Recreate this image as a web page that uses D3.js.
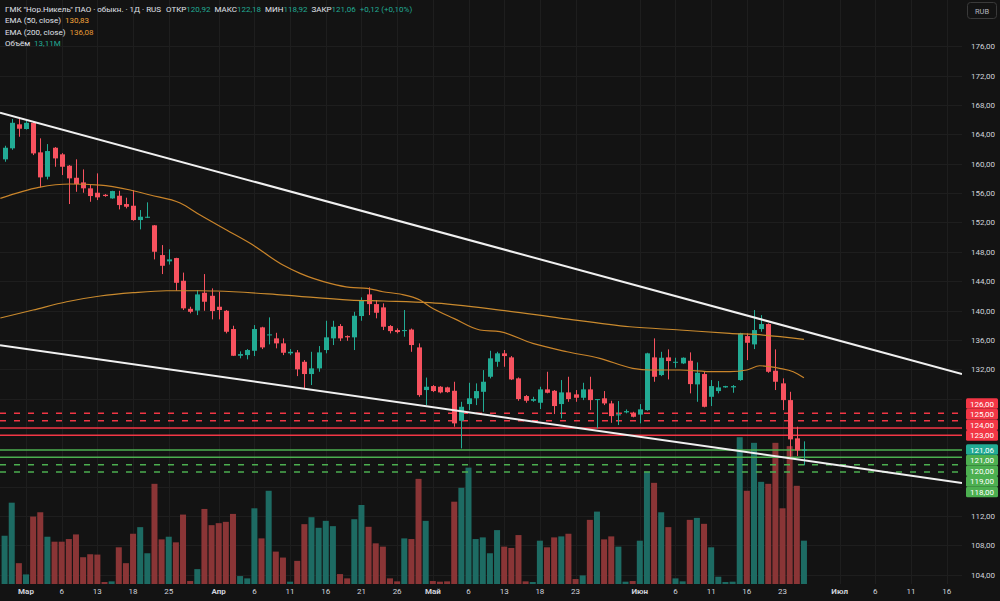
<!DOCTYPE html>
<html><head><meta charset="utf-8">
<script src="https://cdn.jsdelivr.net/npm/d3@7"></script>
<style>
html,body{margin:0;padding:0;background:#131313;overflow:hidden}
text{font-family:Roboto,"Noto Sans",sans-serif}
</style></head><body>
<svg id="c" width="1000" height="601"></svg>
<script>
// ---- data ----
const openP = [160.60,162.10,165.37,164.73,165.58,161.55,158.23,162.18,161.28,159.73,158.09,157.46,156.65,156.05,155.77,155.28,155.64,154.51,154.28,152.33,152.64,151.61,147.56,146.70,147.15,144.06,140.24,140.00,142.42,142.01,140.52,139.97,137.48,133.84,133.93,134.52,137.71,136.62,136.21,135.53,134.17,134.30,133.02,131.35,132.12,134.62,136.21,137.89,136.52,136.35,139.25,142.20,140.88,140.43,137.89,137.34,137.20,137.41,134.98,129.17,129.71,129.62,129.53,129.07,124.98,127.26,128.04,128.93,130.98,133.02,134.17,133.62,130.76,128.35,127.71,127.44,129.26,129.07,127.26,128.85,128.58,128.12,129.26,127.80,128.04,127.35,125.72,126.13,125.99,125.83,126.44,133.62,131.21,133.62,132.89,132.80,133.16,129.94,131.35,128.25,129.03,129.53,129.53,130.53,136.52,135.39,137.48,138.16,131.80,130.08,127.80,122.59,120.92];
const highP = [162.45,166.09,166.18,165.95,165.72,163.46,162.68,162.27,161.45,159.82,160.60,159.23,157.23,158.69,155.87,156.32,156.32,155.37,156.41,153.69,154.74,151.65,148.92,148.34,147.19,145.17,140.52,142.79,144.97,143.02,142.56,140.07,137.93,134.44,134.75,138.02,137.79,139.07,136.97,136.21,134.75,134.62,133.25,134.38,135.16,138.61,138.61,138.16,136.62,139.83,141.80,143.16,141.43,140.98,138.02,137.57,140.07,137.55,135.53,130.87,129.85,129.71,129.62,130.30,127.57,130.16,130.08,131.89,134.52,134.38,134.62,133.80,130.89,128.49,128.25,129.62,131.66,129.17,130.53,130.98,129.17,130.16,130.98,127.94,129.03,127.71,127.67,126.53,126.21,127.26,134.25,136.21,134.38,134.71,133.57,133.62,134.30,132.94,131.75,130.53,130.39,129.75,129.85,136.97,136.89,140.07,139.38,138.25,134.71,130.76,128.93,124.17,122.18];
const lowP = [160.27,161.90,163.68,164.66,161.18,156.78,157.87,159.59,158.46,154.51,156.18,156.05,154.82,155.05,155.50,155.23,153.78,153.92,152.23,151.06,152.60,146.97,144.97,146.26,142.69,140.07,139.62,139.38,139.97,138.80,138.80,136.89,133.80,133.49,133.35,133.80,134.75,135.39,134.85,133.93,133.93,131.07,129.40,129.85,131.66,134.17,135.30,135.84,135.88,134.62,138.61,139.38,138.94,137.34,136.89,136.89,136.43,134.38,128.25,127.12,128.89,128.72,128.80,124.17,121.22,126.44,127.12,126.21,130.76,132.34,132.34,130.53,127.71,127.44,127.57,126.58,128.72,125.90,125.31,127.57,127.57,127.80,126.44,123.95,127.12,124.71,124.40,125.99,125.45,124.63,126.35,130.30,131.07,130.62,132.21,132.71,128.72,127.57,126.81,126.99,128.72,129.48,128.80,130.44,133.25,134.75,137.11,131.52,129.17,126.44,120.08,120.17,118.92];
const closeP = [162.18,165.58,164.77,165.58,161.41,158.14,161.73,160.73,159.59,158.01,157.23,156.65,155.60,155.42,155.60,156.28,154.37,154.14,152.33,152.78,152.78,148.01,146.10,146.97,143.78,140.30,139.83,142.20,141.20,139.93,140.07,137.11,133.84,134.07,134.62,137.48,134.98,136.75,135.53,134.25,134.38,131.99,131.35,132.12,134.30,136.35,137.79,136.21,136.35,139.29,141.33,140.88,139.70,137.79,137.20,137.07,137.34,135.30,128.48,129.62,129.03,128.85,128.89,124.63,126.89,128.04,129.03,130.30,133.49,134.17,133.80,130.62,127.94,127.71,127.94,129.26,128.80,126.99,128.85,127.94,128.12,129.26,127.80,127.94,127.35,125.62,125.86,126.30,125.53,126.54,134.17,130.98,133.57,133.12,133.02,133.57,129.98,131.52,126.89,129.71,129.53,129.71,129.71,136.89,135.61,137.34,138.16,131.66,130.30,127.80,122.45,120.94,121.06];
const volumeM = [14.6,24.6,6.3,2.9,20.4,21.7,14.3,12.8,12.8,13.6,15.0,8.1,9.0,8.9,0.6,0.8,11.1,6.3,15.2,17.2,9.3,30.3,13.5,14.3,12.6,21.0,0.9,4.5,22.7,17.8,18.4,18.8,21.2,2.4,1.7,22.9,13.8,28.2,9.8,8.0,0.7,7.0,18.1,20.2,17.0,19.1,17.5,3.0,1.7,19.6,23.9,17.3,12.3,11.3,1.7,0.8,13.8,13.6,31.8,19.1,0.9,0.7,0.8,24.9,29.1,35.2,13.6,14.1,9.3,16.3,11.3,10.9,14.8,0.8,0.6,13.1,11.1,14.1,14.4,15.2,1.5,2.6,19.4,21.9,13.5,14.4,11.3,0.7,0.9,13.1,34.0,30.6,21.7,17.2,1.7,0.8,19.4,20.0,18.2,11.1,2.2,0.6,0.7,44.4,28.2,42.7,30.9,30.3,42.7,22.9,41.7,29.7,13.11];
// EMA readings [bar index, value]
const ema50 = [[-0.6,155.29],[4.8,156.79],[9.2,157.24],[13.4,157.10],[17.6,156.42],[20.4,155.74],[24.6,154.65],[27.4,153.01],[31.1,150.97],[34.4,149.16],[39,146.20],[41.4,145.07],[45.6,143.71],[48.4,143.16],[50.8,143.03],[53,142.56],[55.4,142.25],[58.2,141.43],[59.6,140.52],[63,138.9],[66.6,137.35],[69.4,137.12],[74,135.53],[78.8,134.39],[83.4,133.49],[88,132.13],[90.4,131.90],[94.6,131.90],[99.3,131.67],[101.6,131.67],[104,131.90],[105.8,132.48],[107.2,132.35],[108.6,132.13],[110.5,131.67],[112,130.83]];
const ema200 = [[-0.6,138.98],[4,140.07],[8.7,141.20],[13.4,141.98],[18,142.43],[22.7,142.70],[27.4,142.70],[29.7,142.66],[39.1,142.11],[48.4,141.43],[53.1,141.30],[59.6,141.07],[69.4,140.07],[77.8,138.98],[87.6,137.79],[94.6,137.35],[101.6,136.90],[106.3,136.66],[112,136.08]];
const trendUpper = [[3,166.0],[106,138.8]];
const trendLower = [[0,135.2],[112,119.6]];
const redDashed = [126,125];
const redSolid = [124,123];
const greenSolid = [121,120];
const greenDashed = [119,118];
const lastPrice = 121.06;
const priceTicks = d3.range(104,177,4);
const xTickIdx = [3,8,13,18,23,30,35,40,45,50,55,60,65,70,75,80,89,94,99,104,109,117,122,127,132];
const xTickLabels = ["Мар","6","13","18","25","Апр","6","11","16","21","26","Май","6","13","18","23","Июн","6","11","16","23","Июл","6","11","16"];
const monthNames = ["Мар","Апр","Май","Июн","Июл"];

// ---- layout ----
const plotR = 962, plotB = 584;
const UP = "#22ab94", DN = "#f7525f";
const VUP = "#1d6b63", VDN = "#8a3536";
const RED = "#f23645", GREEN = "#4caf50";
const svg = d3.select("#c");
const x = d3.scaleLinear().domain([0,132]).range([4.59,946.7]);
const y = d3.scaleLinear().domain([104,176]).range([574.8,46.3]);
const yv = d3.scaleLinear().domain([0,50]).range([plotB,418.7]);
const loc = d3.formatLocale({decimal:",",thousands:" ",grouping:[3],currency:["",""]});
const f2 = loc.format(".2f");

svg.append("rect").attr("width",1000).attr("height",601).attr("fill","#131313");
svg.append("defs").append("clipPath").attr("id","clip").append("rect").attr("x",0).attr("y",0).attr("width",plotR).attr("height",plotB);

// grid
const grid = svg.append("g").attr("stroke","#1e1e1e").attr("stroke-width",1);
grid.selectAll("line.h").data(priceTicks).join("line").attr("x1",0).attr("x2",plotR)
  .attr("y1",d=>Math.round(y(d))+0.5).attr("y2",d=>Math.round(y(d))+0.5);
grid.selectAll("line.v").data(xTickIdx).join("line").attr("y1",0).attr("y2",plotB)
  .attr("x1",d=>Math.round(x(d))+0.5).attr("x2",d=>Math.round(x(d))+0.5);

const plot = svg.append("g").attr("clip-path","url(#clip)");
const idx = d3.range(openP.length);

// volume
plot.append("g").selectAll("rect").data(idx).join("rect")
  .attr("x",i=>x(i)-3).attr("width",6)
  .attr("y",i=>yv(volumeM[i])).attr("height",i=>plotB-yv(volumeM[i]))
  .attr("fill",i=>closeP[i]>=openP[i]?VUP:VDN);

// horizontal levels
function hlines(vals,color,dash){
  plot.append("g").selectAll("line").data(vals).join("line")
    .attr("x1",0).attr("x2",plotR).attr("y1",d=>y(d)).attr("y2",d=>y(d))
    .attr("stroke",color).attr("stroke-width",1.5).attr("stroke-dasharray",dash);
}
hlines(redDashed,RED,"6,8");
hlines(redSolid,RED,null);
hlines(greenSolid,GREEN,null);
hlines(greenDashed,GREEN,"6,8");

// candles
const cg = plot.append("g");
cg.selectAll("line").data(idx).join("line")
  .attr("x1",i=>Math.round(x(i))+0.5).attr("x2",i=>Math.round(x(i))+0.5)
  .attr("y1",i=>y(highP[i])).attr("y2",i=>y(lowP[i]))
  .attr("stroke",i=>closeP[i]>=openP[i]?UP:DN).attr("stroke-width",1);
cg.selectAll("rect").data(idx).join("rect")
  .attr("x",i=>Math.round(x(i))-2).attr("width",5)
  .attr("y",i=>y(Math.max(openP[i],closeP[i])))
  .attr("height",i=>Math.max(1,Math.abs(y(openP[i])-y(closeP[i]))))
  .attr("fill",i=>closeP[i]>=openP[i]?UP:DN);

// EMAs
const ln = d3.line().x(d=>x(d[0])).y(d=>y(d[1])).curve(d3.curveMonotoneX);
plot.append("path").attr("d",ln(ema200)).attr("fill","none").attr("stroke","#c98a2e").attr("stroke-width",1.2);
plot.append("path").attr("d",ln(ema50)).attr("fill","none").attr("stroke","#c9842a").attr("stroke-width",1.2);

// trend lines (extended across the pane)
function trend(pts){
  const [a,b] = pts, s = (b[1]-a[1])/(b[0]-a[0]);
  const i0 = x.invert(0), i1 = x.invert(plotR);
  plot.append("line").attr("x1",0).attr("y1",y(a[1]+s*(i0-a[0])))
    .attr("x2",plotR).attr("y2",y(a[1]+s*(i1-a[0])))
    .attr("stroke","#f0f0f0").attr("stroke-width",2);
}
trend(trendUpper); trend(trendLower);

// price labels with stacking (computed first so hidden ticks can be skipped)
const LH = 10.6;
const labels = [];
const lastY = y(lastPrice);
let prev = lastY;
[...redSolid,...redDashed].sort((a,b)=>a-b).forEach(v=>{
  const yc = Math.min(y(v), prev-LH); prev = yc; labels.push([v,yc,RED]);
});
prev = lastY;
[...greenSolid,...greenDashed].sort((a,b)=>b-a).forEach(v=>{
  const yc = Math.max(y(v), prev+LH); prev = yc; labels.push([v,yc,GREEN]);
});
labels.push([lastPrice,lastY,UP]);
const lblTop = d3.min(labels,d=>d[1])-LH/2, lblBot = d3.max(labels,d=>d[1])+LH/2;

// price axis (ticks that sit under the colored labels are hidden)
svg.append("g").selectAll("text").data(priceTicks.filter(t=>y(t)<lblTop-3||y(t)>lblBot+3)).join("text")
  .attr("x",983).attr("y",d=>y(d)+3).attr("text-anchor","middle")
  .attr("font-size",8).attr("fill","#d1d4dc").text(d=>f2(d));

labels.forEach(([v,yc,bg])=>{
  svg.append("rect").attr("x",966).attr("y",yc-LH/2).attr("width",32).attr("height",LH).attr("rx",1.5).attr("fill",bg);
  svg.append("text").attr("x",982).attr("y",yc+3).attr("text-anchor","middle").attr("font-size",8)
    .attr("fill","#ffffff").text(f2(v));
});

// RUB box
svg.append("rect").attr("x",967.5).attr("y",2.5).attr("width",29).attr("height",16).attr("rx",3)
  .attr("fill","none").attr("stroke","#3a3a3a");
svg.append("text").attr("x",982).attr("y",13.5).attr("text-anchor","middle").attr("font-size",7.5)
  .attr("fill","#b2b5be").text("RUB");

// time axis
svg.append("g").selectAll("text").data(xTickIdx).join("text")
  .attr("x",d=>x(d)).attr("y",594).attr("text-anchor","middle").attr("font-size",8)
  .attr("font-weight",(d,k)=>monthNames.includes(xTickLabels[k])?"bold":"normal")
  .attr("fill","#d1d4dc").text((d,k)=>xTickLabels[k]);

// legend (flowing text)
const n = openP.length-1;
const chg = closeP[n]-closeP[n-1];
const W = "#e0e3eb";
function leg(yb,parts){
  const t = svg.append("text").attr("x",5).attr("y",yb).attr("font-size",8);
  parts.forEach(p=>t.append("tspan").attr("dx",p[0]).attr("fill",p[2]).text(p[1]));
}
leg(12,[[0,'ГМК "Нор.Никель" ПАО · обыкн. · 1Д · RUS',W],[5,"ОТКР",W],[0,f2(openP[n]),UP],
  [4,"МАКС",W],[0,f2(highP[n]),UP],[4,"МИН",W],[0,f2(lowP[n]),UP],[4,"ЗАКР",W],[0,f2(closeP[n]),UP],
  [4,(chg>=0?"+":"")+f2(chg)+" ("+(chg>=0?"+":"")+f2(chg/closeP[n-1]*100)+"%)",UP]]);
leg(23,[[0,"EMA (50, close)",W],[4,f2(ema50[ema50.length-1][1]),"#f0a33a"]]);
leg(34.5,[[0,"EMA (200, close)",W],[4,f2(ema200[ema200.length-1][1]),"#e59a35"]]);
leg(45.5,[[0,"Объём",W],[4,f2(volumeM[n])+"M",UP]]);
</script></body></html>
